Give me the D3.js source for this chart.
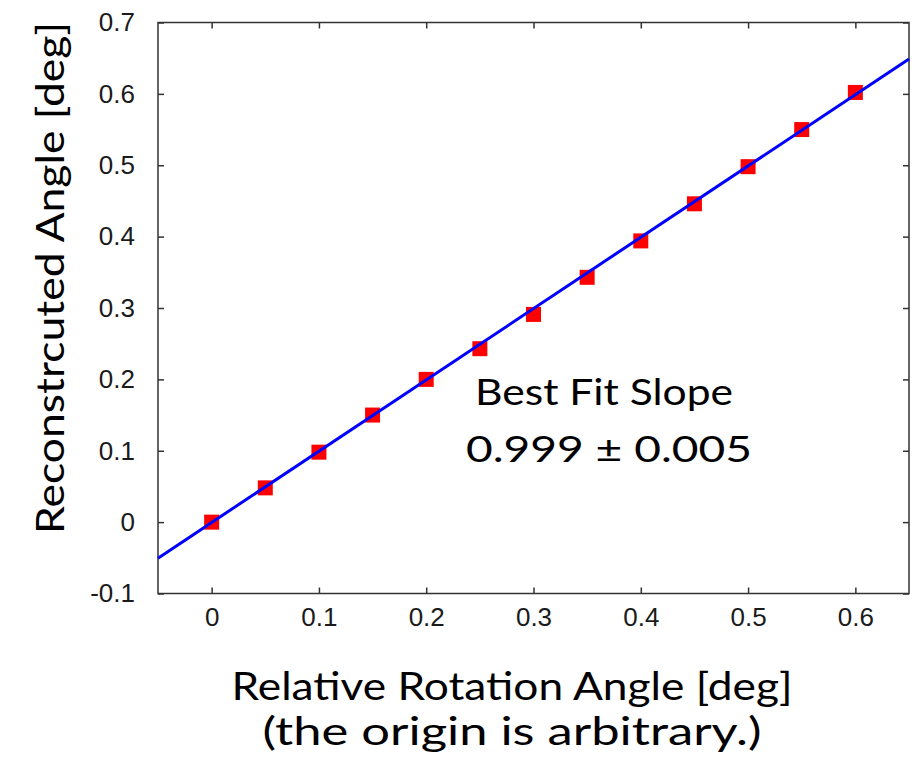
<!DOCTYPE html>
<html>
<head>
<meta charset="utf-8">
<script src="https://cdn.jsdelivr.net/npm/d3@7"></script>
<style>
  body { margin: 0; background: #fff; }
  svg { display: block; }
</style>
</head>
<body>
<svg id="chart" width="912" height="765"></svg>
<script>
// Measured rotation (deg) vs. reconstructed angle (deg)
const rotation      = [0, 0.05, 0.10, 0.15, 0.20, 0.25, 0.30, 0.35, 0.40, 0.45, 0.50, 0.55, 0.60];
const reconstructed = [0, 0.048, 0.098, 0.150, 0.200, 0.243, 0.291, 0.343, 0.394, 0.446, 0.498, 0.550, 0.602];

const xTicks = [0, 0.1, 0.2, 0.3, 0.4, 0.5, 0.6];
const yTicks = [-0.1, 0, 0.1, 0.2, 0.3, 0.4, 0.5, 0.6, 0.7];

// Linear fit
const fitSlope = 0.999;
const fitSlopeErr = 0.005;
const fitIntercept = -0.0005;

const xDomain = [-0.05, 0.65];
const yDomain = [-0.1, 0.7];

const svg = d3.select("#chart");
const frame = { left: 158, right: 909, top: 22.5, bottom: 593.5 };

const x = d3.scaleLinear().domain(xDomain).range([frame.left, frame.right]);
const y = d3.scaleLinear().domain(yDomain).range([frame.bottom, frame.top]);

const tickFont = "'Liberation Sans', Arial, sans-serif";
const labelFont = "Lato, 'Open Sans', sans-serif";
const labelWeight = 400;
// plain hyphen for negatives, as gnuplot prints them
const fmt = d => String(+d.toFixed(1));

function styleAxis(g) {
  g.select(".domain").remove();
  g.selectAll(".tick line").attr("stroke", "#333").attr("stroke-width", 1.5);
  g.selectAll(".tick text")
    .attr("fill", "#1a1a1a")
    .style("font-family", tickFont)
    .style("font-size", "26px");
}

// Bottom axis (labels) and top axis (ticks only), ticks pointing inward
svg.append("g")
  .attr("transform", `translate(0,${frame.bottom})`)
  .call(d3.axisBottom(x).tickValues(xTicks).tickSizeInner(-6).tickSizeOuter(0).tickPadding(14).tickFormat(fmt))
  .call(styleAxis);
svg.append("g")
  .attr("transform", `translate(0,${frame.top})`)
  .call(d3.axisTop(x).tickValues(xTicks).tickSizeInner(-6).tickSizeOuter(0).tickFormat(""))
  .call(styleAxis);

// Left axis (labels) and right axis (ticks only)
svg.append("g")
  .attr("transform", `translate(${frame.left},0)`)
  .call(d3.axisLeft(y).tickValues(yTicks).tickSizeInner(-6).tickSizeOuter(0).tickPadding(23).tickFormat(fmt))
  .call(styleAxis);
svg.append("g")
  .attr("transform", `translate(${frame.right},0)`)
  .call(d3.axisRight(y).tickValues(yTicks).tickSizeInner(-6).tickSizeOuter(0).tickFormat(""))
  .call(styleAxis);

// Plot frame
svg.append("rect")
  .attr("x", frame.left).attr("y", frame.top)
  .attr("width", frame.right - frame.left).attr("height", frame.bottom - frame.top)
  .attr("fill", "none").attr("stroke", "#333").attr("stroke-width", 1.5);

// Data squares
const size = 15;
svg.append("g").selectAll("rect")
  .data(rotation.map((r, i) => [r, reconstructed[i]]))
  .join("rect")
  .attr("x", d => x(d[0]) - size / 2)
  .attr("y", d => y(d[1]) - size / 2)
  .attr("width", size).attr("height", size)
  .attr("fill", "#ff0000");

// Fit line across the full x range
const fitLine = d3.line().x(d => x(d)).y(d => y(fitSlope * d + fitIntercept));
svg.append("path")
  .datum(xDomain)
  .attr("d", fitLine)
  .attr("fill", "none")
  .attr("stroke", "#0000ff")
  .attr("stroke-width", 3);

function label(sel) {
  return sel.attr("text-anchor", "middle")
    .attr("lengthAdjust", "spacingAndGlyphs")
    .style("font-family", labelFont)
    .style("font-weight", labelWeight)
    .attr("fill", "#000");
}

// Fit annotation
svg.append("text").call(label)
  .attr("x", 604).attr("y", 405)
  .attr("textLength", 258)
  .style("font-size", "37px")
  .text("Best Fit Slope");
svg.append("text").call(label)
  .attr("x", 609).attr("y", 462)
  .attr("textLength", 286)
  .style("font-size", "37px")
  .text(`${fitSlope} ± ${fitSlopeErr}`);

// Axis titles
svg.append("text").call(label)
  .attr("x", 512).attr("y", 700)
  .attr("textLength", 561)
  .style("font-size", "38px")
  .text("Relative Rotation Angle [deg]");
svg.append("text").call(label)
  .attr("x", 512).attr("y", 745)
  .attr("textLength", 499)
  .style("font-size", "38px")
  .text("(the origin is arbitrary.)");

svg.append("text").call(label)
  .attr("transform", "translate(64,278) rotate(-90)")
  .attr("textLength", 512)
  .style("font-size", "38px")
  .text("Reconstrcuted Angle [deg]");
</script>
</body>
</html>
